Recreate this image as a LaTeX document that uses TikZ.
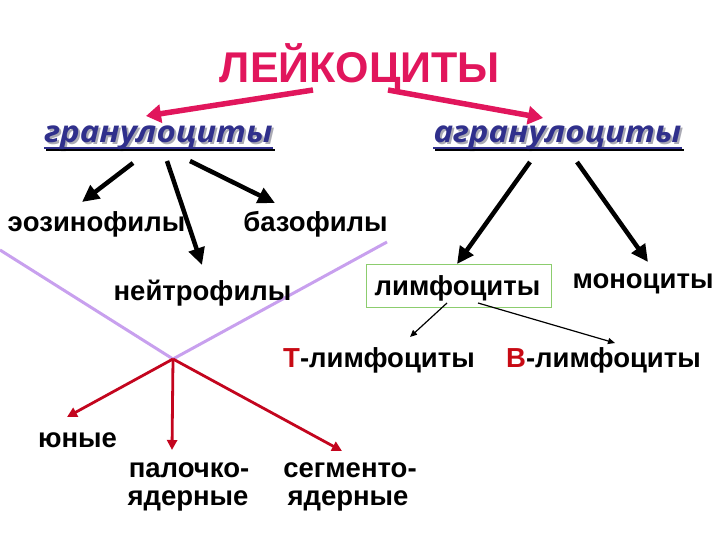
\documentclass[tikz,border=0pt]{standalone}
\usepackage{fontspec}
\setmainfont{Liberation Sans}
\newfontfamily\itfam[FakeStretch=1.1]{Open Sans}
\usetikzlibrary{arrows.meta,calc}
\definecolor{titlecol}{RGB}{225,22,92}
\definecolor{navy}{RGB}{48,48,140}
\definecolor{shade}{RGB}{170,170,180}
\definecolor{lilac}{RGB}{200,160,238}
\definecolor{boxgreen}{RGB}{140,205,110}
\definecolor{darkred}{RGB}{195,5,30}
\definecolor{letterred}{RGB}{200,10,20}
\tikzset{
  txt/.style={inner sep=0pt, anchor=base, font=\bfseries\fontsize{27.5}{30}\selectfont},
  head/.style={inner sep=0pt, anchor=base, font=\itfam\bfseries\itshape\fontsize{30}{32}\selectfont},
  pinkarrow/.style={draw=titlecol, line width=5.5pt, -{Triangle[length=15pt,width=18pt]}},
  blkarrow/.style={draw=black, line width=4.5pt, -{Triangle[length=17pt,width=16pt]}},
  thinarrow/.style={draw=black, line width=1.2pt, -{Triangle[length=7pt,width=6pt]}},
  redarrow/.style={draw=darkred, line width=2.8pt, -{Triangle[length=10pt,width=10pt]}},
  lilacline/.style={draw=lilac, line width=3pt},
}
\begin{document}
\begin{tikzpicture}[x=1pt,y=-1pt]
\useasboundingbox (0,0) rectangle (720,540);
% title
\node[inner sep=0pt, anchor=base, text=titlecol, font=\bfseries\fontsize{43}{45}\selectfont] (title) at (360,83) {ЛЕЙКОЦИТЫ};
% headings with shadow
\node[head, text=shade] (gransh) at (160.5,145) {гранулоциты};
\node[head, text=shade] (agransh) at (559.5,145) {агранулоциты};
\draw[shade, line width=2pt] ($(gransh.base west)+(0,5)$) -- ($(gransh.base east)+(0,5)$);
\draw[shade, line width=2pt] ($(agransh.base west)+(0,5)$) -- ($(agransh.base east)+(0,5)$);
\node[head, text=navy] (gran) at (158.5,143) {гранулоциты};
\node[head, text=navy] (agran) at (557.5,143) {агранулоциты};
\draw[navy, line width=2pt] ($(gran.base west)+(0,5)$) -- ($(gran.base east)+(0,5)$);
\draw[navy, line width=2pt] ($(agran.base west)+(0,5)$) -- ($(agran.base east)+(0,5)$);
% lilac cross
\coordinate (vx) at (173,359);
\coordinate (lfar) at (0,250);
\coordinate (rfar) at (387,242);
\draw[lilacline] (lfar) -- (vx) -- (rfar);
% text nodes
\node[txt] (eoz) at (96.5,232) {эозинофилы};
\node[txt] (bazo) at (315.5,232) {базофилы};
\node[txt] (neut) at (202.5,300) {нейтрофилы};
\node[txt] (limf) at (457.5,295) {лимфоциты};
\node[txt] (mono) at (643,288) {моноциты};
\node[txt] (tl) at (379,367) {\textcolor{letterred}{Т}-лимфоциты};
\node[txt] (bl) at (603.5,367) {\textcolor{letterred}{В}-лимфоциты};
\node[txt] (yun) at (77.5,447) {юные};
\node[txt] (pal1) at (189,477) {палочко-};
\node[txt] (pal2) at (188,505) {ядерные};
\node[txt] (seg1) at (350,477) {сегменто-};
\node[txt] (seg2) at (348,505) {ядерные};
% box round лимфоциты
\draw[boxgreen, line width=0.8pt] ($(limf.base)+(-91.5,-31)$) rectangle ($(limf.base)+(93.5,12)$);
% pink arrows
\draw[pinkarrow] ($(title.base)+(-47,7)$) -- ($(gran.base)+(-12.5,-27)$);
\draw[pinkarrow] ($(title.base)+(28,7)$) -- ($(agran.base)+(-14.5,-25)$);
% black arrows
\draw[blkarrow] ($(gran.base)+(-25.5,20)$) -- ($(eoz.base)+(-14.5,-30)$);
\draw[blkarrow] ($(gran.base)+(8.5,18)$) -- ($(neut.base)+(-0.5,-35)$);
\draw[blkarrow] ($(gran.base)+(31.5,18)$) -- ($(bazo.base)+(-40.5,-29)$);
\draw[blkarrow] ($(agran.base)+(-27.5,19)$) -- ($(limf.base)+(-0.5,-31)$);
\draw[blkarrow] ($(agran.base)+(19.5,19)$) -- ($(mono.base)+(5,-26)$);
% thin arrows
\draw[thinarrow] ($(limf.base)+(-10.5,8)$) -- ($(tl.base)+(31,-30)$);
\draw[thinarrow] ($(limf.base)+(20.5,8)$) -- ($(bl.base)+(11.5,-24)$);
% red arrows
\draw[redarrow] (vx) -- ($(yun.base)+(-10.5,-30)$);
\draw[redarrow] (vx) -- ($(pal1.base)+(-17,-27)$);
\draw[redarrow] (vx) -- ($(seg1.base)+(-8,-26)$);
\end{tikzpicture}
\end{document}
